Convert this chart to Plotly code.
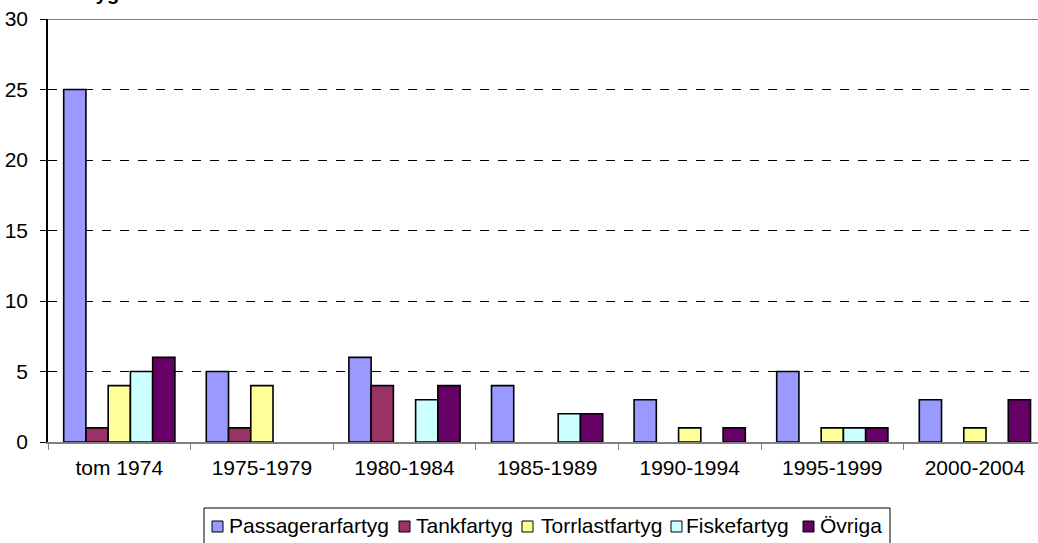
import plotly.graph_objects as go

categories = ["tom 1974", "1975-1979", "1980-1984", "1985-1989", "1990-1994", "1995-1999", "2000-2004"]
passagerarfartyg = [25, 5, 6, 4, 3, 5, 3]
tankfartyg = [1, 1, 4, None, None, None, None]
torrlastfartyg = [4, 4, None, None, 1, 1, 1]
fiskefartyg = [5, None, 3, 2, None, 1, None]
ovriga = [6, None, 4, 2, 1, 1, 3]

series_names = ["Passagerarfartyg", "Tankfartyg", "Torrlastfartyg", "Fiskefartyg", "Övriga"]
series_values = [passagerarfartyg, tankfartyg, torrlastfartyg, fiskefartyg, ovriga]
series_colors = ["#9999FF", "#993366", "#FFFF99", "#CCFFFF", "#660066"]

fig = go.Figure()
for name, vals, col in zip(series_names, series_values, series_colors):
    fig.add_trace(go.Bar(
        x=categories, y=vals, name=name, showlegend=False,
        marker=dict(color=col, line=dict(color="#000000", width=1.6)),
    ))

W, H = 1038, 543
L, R, T, B = 48, 0, 19, 101
pw = W - L - R
ph = H - T - B
cat_w = 142.6
xmax = -0.5 + pw / cat_w


def px(x):
    return (x - L) / pw


def py(y):
    return (T + ph - y) / ph


# manual legend (layout only)
legend_square_x = [212, 399, 522, 671, 803]
legend_text_x = [229, 416, 541, 686, 820]
shapes = [
    dict(type="rect", xref="paper", yref="paper", x0=px(204), x1=px(890), y0=py(560), y1=py(508),
         line=dict(color="#000000", width=1), fillcolor="white", layer="above"),
    dict(type="line", xref="paper", yref="y", x0=0, x1=1, y0=30, y1=30,
         line=dict(color="#808080", width=2)),
]
annotations = [dict(
    text="<b>Antal fartyg</b>", xref="paper", yref="paper",
    x=px(121), xanchor="right", y=py(6), yanchor="bottom",
    showarrow=False, font=dict(size=20),
)]
for name, col, sx, tx in zip(series_names, series_colors, legend_square_x, legend_text_x):
    shapes.append(dict(type="rect", xref="paper", yref="paper",
                       x0=px(sx), x1=px(sx + 11), y0=py(532), y1=py(521),
                       line=dict(color="#000000", width=1), fillcolor=col, layer="above"))
    annotations.append(dict(text=name, xref="paper", yref="paper", x=px(tx), xanchor="left",
                            y=py(525), yanchor="middle", showarrow=False, font=dict(size=21),
                            xshift=-2))

fig.update_layout(
    width=W, height=H,
    margin=dict(l=L, r=R, t=T, b=B, pad=0, autoexpand=False),
    paper_bgcolor="white", plot_bgcolor="white",
    barmode="group", bargap=0.22, bargroupgap=0,
    font=dict(family="Arial, Liberation Sans, sans-serif", size=21, color="#000000"),
    showlegend=False,
    xaxis=dict(
        type="category", range=[-0.5, xmax], automargin=False,
        showline=True, linecolor="#808080", linewidth=2,
        ticks="outside", tickson="boundaries", ticklen=6, tickcolor="#808080", tickwidth=1,
        showgrid=False, tickfont=dict(size=21), ticklabelstandoff=6,
    ),
    yaxis=dict(
        range=[0, 30], dtick=5, tick0=0, automargin=False,
        showline=True, linecolor="#000000", linewidth=1.5,
        ticks="outside", ticklen=6, tickcolor="#000000",
        showgrid=True, gridcolor="#000000", gridwidth=1, griddash="dash",
        zeroline=False, tickfont=dict(size=21), ticklabelstandoff=8,
        ticklabeloverflow="allow",
    ),
    annotations=annotations,
    shapes=shapes,
)

fig.write_html("out.html", config={"displayModeBar": False},
               post_script="document.body.style.margin='0';")
